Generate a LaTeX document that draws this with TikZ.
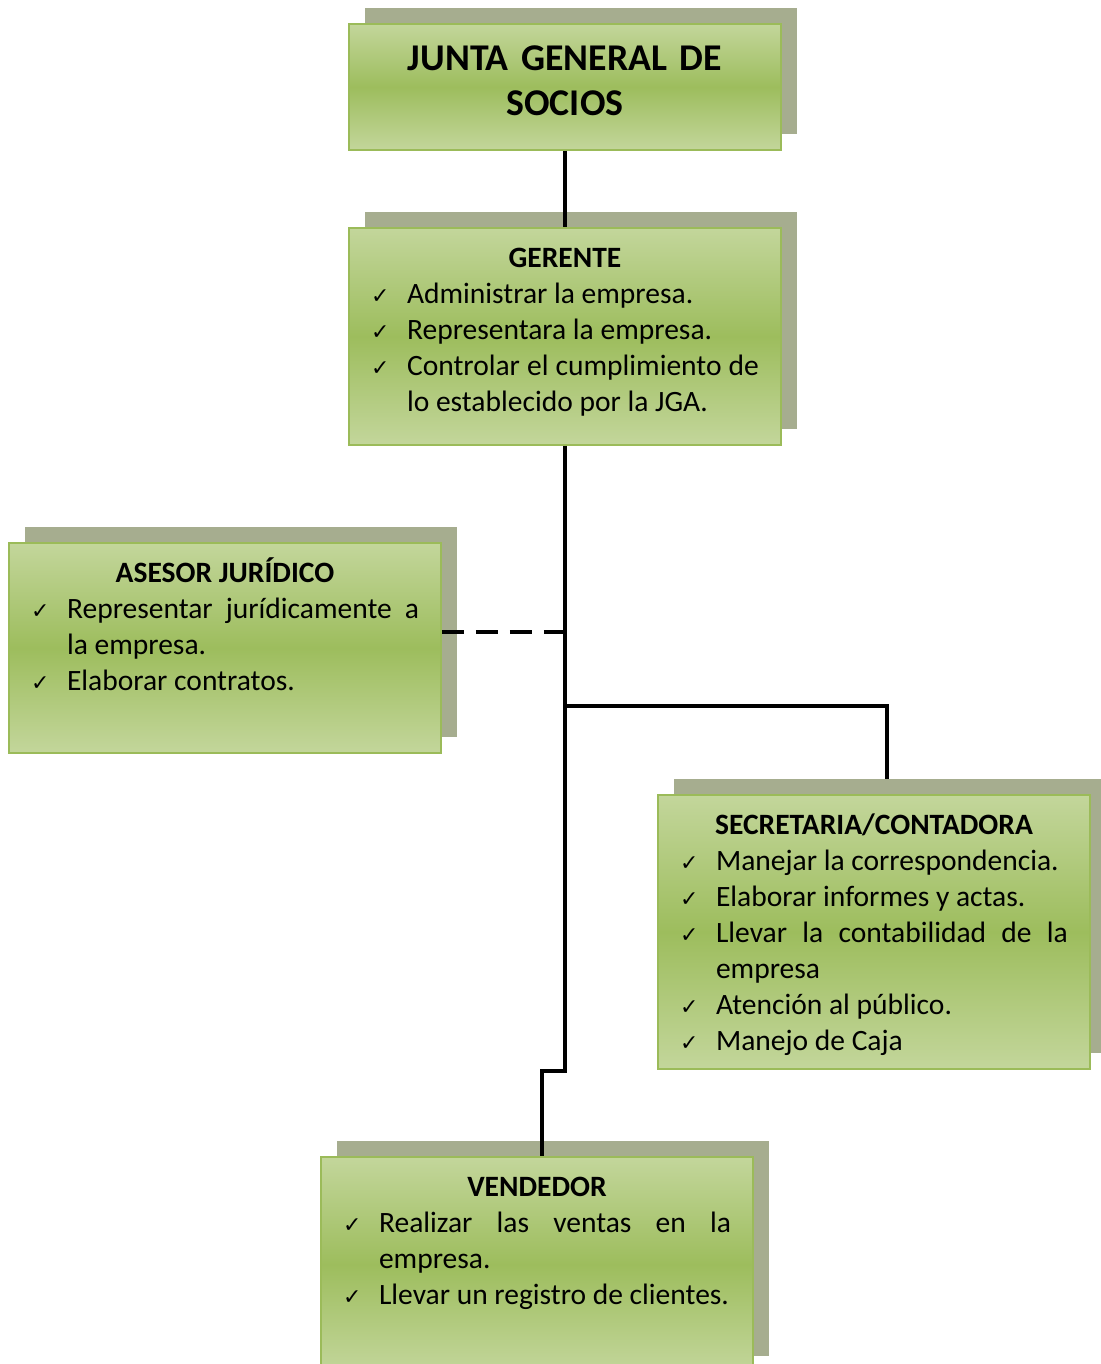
\documentclass[tikz,border=0pt]{standalone}
\usepackage{fontspec}
\setmainfont{Carlito}
\newfontfamily\simbolos{DejaVu Sans}
\usepackage{enumitem}
\usetikzlibrary{positioning,calc}

\definecolor{verdeclaro}{HTML}{C3D69B}
\definecolor{verdemedio}{HTML}{9DBD5D}
\definecolor{borde}{HTML}{9BBB59}
\definecolor{gris}{HTML}{A6AD8F}

\newcommand{\chk}{{\simbolos\fontsize{12.5}{13}\selectfont ✓}}
\newlist{tareas}{itemize}{1}
\setlist[tareas]{label=\chk, leftmargin=0.72cm, labelwidth=0.5cm, labelsep=0.22cm, align=left, topsep=0pt, partopsep=0pt, itemsep=0pt, parsep=0pt}

\begin{document}
\begin{tikzpicture}[
    x=0.02cm, y=-0.02cm,
    cajabox/.style={draw=borde, line width=1.1pt, top color=verdeclaro, bottom color=verdeclaro, middle color=verdemedio, minimum width=8.64cm, inner sep=0pt},
    sombrabox/.style={fill=gris, minimum width=8.64cm, inner sep=0pt},
    textobox/.style={anchor=base, text width=7.76cm, align=justify, inner sep=0pt, font=\fontsize{16.8}{20.5}\selectfont},
    wire/.style={line width=2pt, draw=black}
]
    \useasboundingbox (0,0) rectangle (1100,1364);

    % Sombras
    \node[sombrabox, minimum height=2.52cm] (jun-s) at (581,71) {};
    \node[sombrabox, minimum height=4.34cm] (ger-s) at (581,320.5) {};
    \node[sombrabox, minimum height=4.2cm] (ase-s) at (241,632) {};
    \node[sombrabox, minimum height=5.48cm] (sec-s) at (890,916) {};
    \node[sombrabox, minimum height=4.3cm] (ven-s) at (553,1248.5) {};

    % Cajas
    \node[cajabox, minimum height=2.52cm] (jun) at (565,87) {};
    \node[cajabox, minimum height=4.34cm] (ger) at (565,336.5) {};
    \node[cajabox, minimum height=4.2cm] (ase) at (225,648) {};
    \node[cajabox, minimum height=5.48cm] (sec) at (874,932) {};
    \node[cajabox, minimum height=4.3cm] (ven) at (537,1264.5) {};

    % Textos
    \node[textobox, align=center, font=\bfseries\fontsize{21.5}{25.6}\selectfont] (jun-txt) at ([shift={(0,47)}]jun.north) {JUNTA GENERAL DE\\SOCIOS};

    \node[textobox] (ger-txt) at ([shift={(0,40)}]ger.north) {{\centering\bfseries GERENTE\par}
        \begin{tareas}
            \item Administrar la empresa.
            \item Representara la empresa.
            \item Controlar el cumplimiento de lo establecido por la JGA.
        \end{tareas}};

    \node[textobox] (ase-txt) at ([shift={(0,40)}]ase.north) {{\centering\bfseries ASESOR JURÍDICO\par}
        \begin{tareas}
            \item Representar jurídicamente a\linebreak la empresa.
            \item Elaborar contratos.
        \end{tareas}};

    \node[textobox] (sec-txt) at ([shift={(0,40)}]sec.north) {{\centering\bfseries SECRETARIA/CONTADORA\par}
        \begin{tareas}
            \item Manejar la correspondencia.
            \item Elaborar informes y actas.
            \item Llevar la contabilidad de la\linebreak empresa
            \item Atención al público.
            \item Manejo de Caja
        \end{tareas}};

    \node[textobox] (ven-txt) at ([shift={(0,40)}]ven.north) {{\centering\bfseries VENDEDOR\par}
        \begin{tareas}
            \item Realizar las ventas en la\linebreak empresa.
            \item Llevar un registro de clientes.
        \end{tareas}};

    % Conectores
    \coordinate (cruce) at (565,632);
    \coordinate (rama) at (565,706);
    \coordinate (codo) at (542,1071);

    \draw[wire] (jun.south) -- (ger.north);
    \draw[wire] (ger.south) |- (codo) -- (codo |- ven.north);
    \draw[wire] (rama) -| ([xshift=-0.06cm]sec-s.north);
    \draw[wire, line width=2.3pt, dash pattern=on 0.44cm off 0.24cm] (ase.east |- cruce) -- (cruce);

\end{tikzpicture}
\end{document}
